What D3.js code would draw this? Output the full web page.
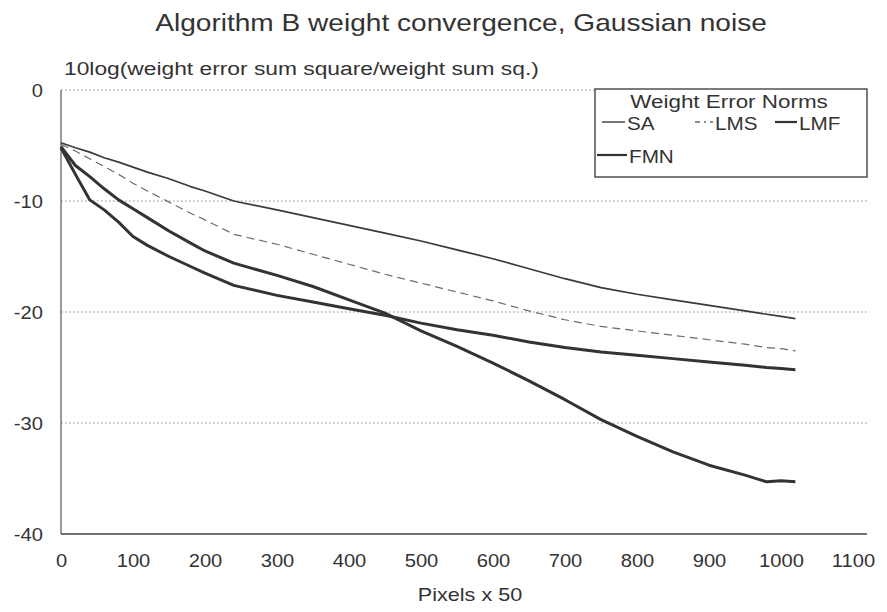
<!DOCTYPE html>
<html>
<head>
<meta charset="utf-8">
<script src="https://cdn.jsdelivr.net/npm/d3@7"></script>
<style>
    body { margin: 0; background: #fff; }
    svg text { font-family: "Liberation Sans", Arial, sans-serif; fill: #333; }
</style>
</head>
<body>
<svg id="viz"></svg>
<script>
// sample positions (Pixels x 50) shared by all series
let xs = [0, 20, 40, 60, 80, 100, 120, 150, 180, 200, 240, 300, 350, 400, 450, 500, 550, 600, 650, 700, 750, 800, 850, 900, 950, 980, 1000, 1020]
let saValues = [-4.75, -5.2, -5.6, -6.1, -6.5, -6.95, -7.4, -8.0, -8.7, -9.1, -10.0, -10.8, -11.5, -12.2, -12.9, -13.6, -14.4, -15.2, -16.1, -17.0, -17.8, -18.4, -18.9, -19.4, -19.9, -20.2, -20.4, -20.6]
let lmsValues = [-4.9, -5.5, -6.2, -6.9, -7.6, -8.4, -9.1, -10.1, -11.1, -11.7, -13.0, -13.9, -14.8, -15.7, -16.6, -17.4, -18.2, -19.0, -19.9, -20.7, -21.3, -21.7, -22.1, -22.5, -22.9, -23.2, -23.3, -23.5]
let lmfValues = [-5.2, -7.6, -9.9, -10.8, -11.9, -13.2, -14.0, -15.0, -15.9, -16.5, -17.6, -18.5, -19.1, -19.7, -20.3, -21.0, -21.6, -22.1, -22.7, -23.2, -23.6, -23.9, -24.2, -24.5, -24.8, -25.0, -25.1, -25.2]
let fmnValues = [-5.1, -6.8, -7.8, -8.9, -9.9, -10.7, -11.5, -12.7, -13.8, -14.5, -15.6, -16.7, -17.7, -18.9, -20.1, -21.7, -23.1, -24.6, -26.2, -27.9, -29.7, -31.2, -32.6, -33.8, -34.7, -35.3, -35.2, -35.3]
let xTicks = [0, 100, 200, 300, 400, 500, 600, 700, 800, 900, 1000, 1100]
let yTicks = [0, -10, -20, -30, -40]
let seriesNames = ['SA', 'LMS', 'LMF', 'FMN']

let config = {
    width: 887,
    height: 612,
    margin: { top: 90, right: 34, bottom: 78, left: 61 },
    gridOverhang: 14,
    // the scanned original is a little wider than tall, text too
    textStretch: 1.15,
    styles: {
        SA: { width: 1.7, dash: null, color: '#3a3a3a' },
        LMS: { width: 1.2, dash: '8,5', color: '#6a6a6a' },
        LMF: { width: 3, dash: null, color: '#333' },
        FMN: { width: 3, dash: null, color: '#333' }
    }
}

;(function () {
    let svg = d3.select('#viz')
        .attr('width', config.width)
        .attr('height', config.height)
    let m = config.margin
    let plotW = config.width - m.left - m.right
    let plotH = config.height - m.top - m.bottom
    let sx = config.textStretch

    function addText(parent, x, y, str, size, anchor, stretch) {
        return parent.append('text')
            .attr('transform', 'translate(' + [x, y] + ') scale(' + (stretch || sx) + ',1)')
            .attr('text-anchor', anchor || 'start')
            .attr('font-size', size)
            .text(str)
    }

    let xScale = d3.scaleLinear().domain([0, 1100]).range([m.left, m.left + plotW])
    let yScale = d3.scaleLinear().domain([-40, 0]).range([m.top + plotH, m.top])
    let gridRight = xScale(1100) + config.gridOverhang

    // dotted grid lines
    svg.append('g')
        .selectAll('line')
        .data(yTicks.filter(d => d > -40))
        .join('line')
        .attr('x1', xScale(0))
        .attr('x2', gridRight)
        .attr('y1', d => yScale(d))
        .attr('y2', d => yScale(d))
        .attr('stroke', '#888')
        .attr('stroke-width', 1)
        .attr('stroke-dasharray', '1.5,2.5')

    // axes: labels only, no tick marks
    let xAxis = d3.axisBottom(xScale).tickValues(xTicks).tickSize(0).tickPadding(0).tickFormat(d => String(d))
    let gx = svg.append('g').attr('transform', 'translate(0,' + yScale(-40) + ')').call(xAxis)
    gx.select('.domain').remove()
    gx.selectAll('text')
        .attr('font-size', 18)
        .attr('fill', '#333')
        .attr('dy', null)
        .attr('y', 0)
        .attr('transform', 'translate(0,33) scale(1.12,1)')

    let yAxis = d3.axisLeft(yScale).tickValues(yTicks).tickSize(0).tickPadding(0).tickFormat(d => String(d))
    let gy = svg.append('g').attr('transform', 'translate(' + xScale(0) + ',0)').call(yAxis)
    gy.select('.domain').remove()
    gy.selectAll('text')
        .attr('font-size', 18)
        .attr('fill', '#333')
        .attr('x', 0)
        .attr('transform', 'translate(-18,1) scale(1.12,1)')

    svg.append('line')
        .attr('x1', xScale(0)).attr('x2', xScale(0))
        .attr('y1', yScale(0)).attr('y2', yScale(-40))
        .attr('stroke', '#555').attr('stroke-width', 1.2)
    svg.append('line')
        .attr('x1', xScale(0)).attr('x2', gridRight)
        .attr('y1', yScale(-40)).attr('y2', yScale(-40))
        .attr('stroke', '#444').attr('stroke-width', 1.6)

    // series lines
    let seriesData = {
        SA: saValues,
        LMS: lmsValues,
        LMF: lmfValues,
        FMN: fmnValues
    }
    let line = d3.line()
        .x(d => xScale(d[0]))
        .y(d => yScale(d[1]))
    seriesNames.forEach(name => {
        let st = config.styles[name]
        let pts = xs.map((x, i) => [x, seriesData[name][i]])
        svg.append('path')
            .datum(pts)
            .attr('fill', 'none')
            .attr('stroke', st.color)
            .attr('stroke-width', st.width)
            .attr('stroke-dasharray', st.dash)
            .attr('stroke-linejoin', 'round')
            .attr('d', line)
    })

    // titles
    addText(svg, 461, 31, 'Algorithm B weight convergence, Gaussian noise', 24, 'middle', 1.17)
        .attr('fill', '#444')
    addText(svg, 64, 75, '10log(weight error sum square/weight sum sq.)', 19, 'start', 1.2)
    addText(svg, 470, 601, 'Pixels x 50', 18, 'middle', 1.2)

    // legend
    let lg = svg.append('g').attr('transform', 'translate(595,89)')
    lg.append('rect')
        .attr('width', 272).attr('height', 88)
        .attr('fill', '#fff')
        .attr('stroke', '#444').attr('stroke-width', 1.4)
    addText(lg, 134, 19, 'Weight Error Norms', 19, 'middle', 1.18)
    let legendPos = {
        SA: [7, 41, 23],
        LMS: [100, 41, 18],
        LMF: [180, 41, 22],
        FMN: [2, 74, 30]
    }
    seriesNames.forEach(name => {
        let st = config.styles[name]
        let p = legendPos[name]
        lg.append('line')
            .attr('x1', p[0]).attr('x2', p[0] + p[2])
            .attr('y1', p[1] - 8).attr('y2', p[1] - 8)
            .attr('stroke', st.color)
            .attr('stroke-width', name === 'SA' || name === 'LMS' ? 1.4 : 2.2)
            .attr('stroke-dasharray', name === 'LMS' ? '5,4,2,4' : null)
        addText(lg, p[0] + p[2] + 2, p[1], name, 18, 'start', 1.15)
    })
})()
</script>
</body>
</html>
